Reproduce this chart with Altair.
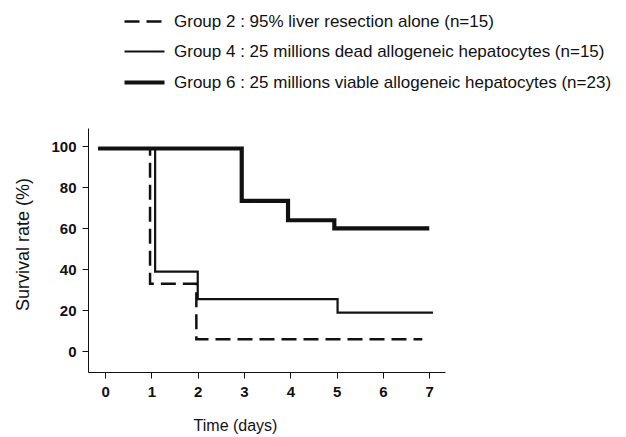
import altair as alt
import pandas as pd

groups = [
    "Group 2 : 95% liver resection alone (n=15)",
    "Group 4 : 25 millions dead allogeneic hepatocytes (n=15)",
    "Group 6 : 25 millions viable allogeneic hepatocytes (n=23)",
]

g2_days = [-0.15, 0.97, 1.97, 6.85]
g2_surv = [99, 33, 6, 6]

g4_days = [-0.15, 1.08, 2.0, 5.02, 7.08]
g4_surv = [99, 39, 25.5, 19, 19]

g6_days = [-0.15, 2.95, 3.95, 4.95, 7.0]
g6_surv = [99, 73.5, 64, 60, 60]

rows = []
for i, (g, d, s) in enumerate(zip(groups, [g2_days, g4_days, g6_days], [g2_surv, g4_surv, g6_surv])):
    for k, (dx, sy) in enumerate(zip(d, s)):
        rows.append({"group": g, "day": dx, "surv": sy, "order": k})
df = pd.DataFrame(rows)

x_ticks = [0, 1, 2, 3, 4, 5, 6, 7]
y_ticks = [0, 20, 40, 60, 80, 100]

font = "Liberation Sans"

chart = alt.Chart(df).mark_line(interpolate="step-after", stroke="#111111").encode(
    x=alt.X("day:Q", scale=alt.Scale(domain=[-0.37, 7.34], nice=False, zero=False),
            axis=alt.Axis(values=x_ticks, title="Time (days)", grid=False,
                          titleX=147, titleY=53, titleBaseline="middle", titleAlign="center",
                          labelFontWeight="bold", labelFontSize=15, labelPadding=6,
                          titleFontSize=16, titleFontWeight="normal", tickSize=6,
                          domainColor="#111", tickColor="#111", labelColor="#111", titleColor="#111",
                          labelFont=font, titleFont=font)),
    y=alt.Y("surv:Q", scale=alt.Scale(domain=[-10, 109], nice=False, zero=False),
            axis=alt.Axis(values=y_ticks, title="Survival rate (%)", grid=False,
                          titleX=-65, titleY=116, titleBaseline="middle", titleAlign="center", titleAngle=270,
                          labelFontWeight="bold", labelFontSize=15, labelPadding=6,
                          titleFontSize=18, titleFontWeight="normal", tickSize=6,
                          domainColor="#111", tickColor="#111", labelColor="#111", titleColor="#111",
                          labelFont=font, titleFont=font)),
    strokeDash=alt.StrokeDash("group:N", scale=alt.Scale(domain=groups, range=[[15, 7], [1, 0], [1, 0]]),
                              legend=alt.Legend(title=None)),
    strokeWidth=alt.StrokeWidth("group:N",
                                scale=alt.Scale(type="ordinal", domain=groups, range=[2.5, 2.2, 4.2]),
                                legend=alt.Legend(title=None)),
    order="order:Q",
).properties(
    width=357, height=244,
    autosize=alt.AutoSizeParams(type="none"),
    padding={"left": 80, "top": 120, "right": 173, "bottom": 65},
).configure_view(stroke=None).configure_legend(
    orient="none", legendX=34, legendY=-128, symbolType="stroke", symbolSize=1600,
    symbolStrokeColor="#111", labelFontSize=17, labelFont=font, labelColor="#111",
    labelOffset=7, rowPadding=-11, padding=0, labelLimit=600,
)

chart.save("out.html", embed_options={"renderer": "svg", "actions": False})
